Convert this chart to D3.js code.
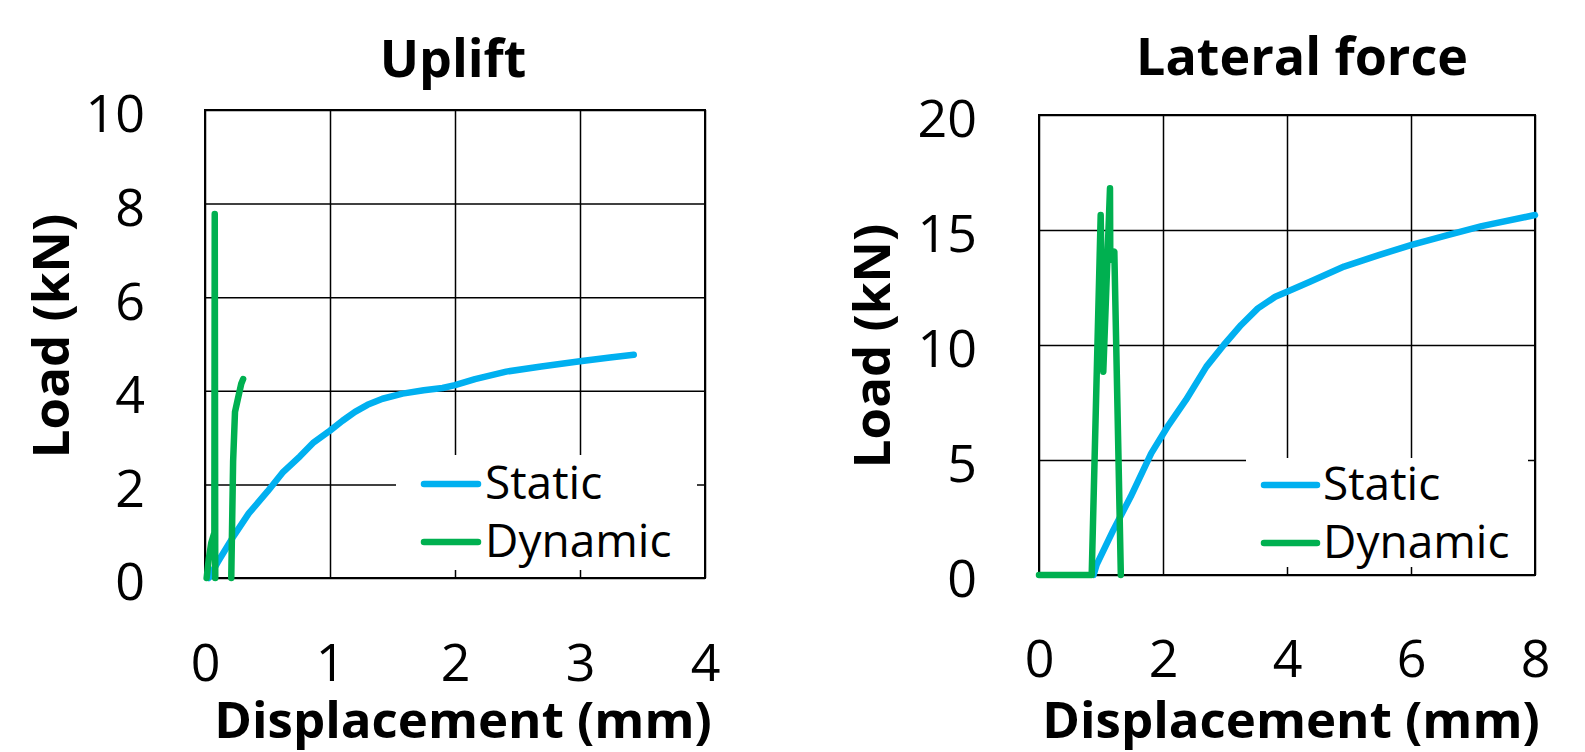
<!DOCTYPE html>
<html>
<head>
<meta charset="utf-8">
<script src="https://cdn.jsdelivr.net/npm/d3@7"></script>
<style>
  body { margin: 0; background: #fff; }
  text { font-family: "Open Sans", sans-serif; fill: #000; }
</style>
</head>
<body>
<svg id="chart" width="1585" height="752"></svg>
<script>
// Uplift panel
var upStaticX = [0.03, 0.1, 0.23, 0.35, 0.5, 0.62, 0.76, 0.87, 1.0, 1.1, 1.2, 1.3, 1.42, 1.58, 1.75, 1.9, 2.0, 2.16, 2.41, 2.69, 3.0, 3.24, 3.43];
var upStaticY = [0.0, 0.33, 0.9, 1.38, 1.85, 2.25, 2.6, 2.9, 3.15, 3.36, 3.55, 3.7, 3.83, 3.94, 4.01, 4.06, 4.12, 4.25, 4.41, 4.52, 4.63, 4.71, 4.77];
// null = gap between the two loadings
var upDynX = [0.013, 0.03, 0.05, 0.075, 0.078, 0.082, 0.15, 0.21, 0.225, 0.24, 0.265, 0.29, 0.305];
var upDynY = [0.0, 0.4, 0.75, 0.97, 7.78, 0.0, null, 0.0, 2.5, 3.55, 3.85, 4.15, 4.25];
var upXTicks = [0, 1, 2, 3, 4];
var upYTicks = [0, 2, 4, 6, 8, 10];

// Lateral force panel
var latStaticX = [0.88, 0.93, 1.2, 1.48, 1.81, 2.09, 2.37, 2.7, 2.98, 3.26, 3.53, 3.81, 4.0, 4.37, 4.92, 5.48, 6.01, 6.59, 7.14, 8.0];
var latStaticY = [0.0, 0.45, 1.96, 3.41, 5.29, 6.52, 7.61, 9.06, 10.0, 10.87, 11.59, 12.1, 12.32, 12.75, 13.41, 13.91, 14.35, 14.78, 15.17, 15.65];
var latDynX = [0.0, 0.85, 0.995, 1.037, 1.145, 1.15, 1.215, 1.32];
var latDynY = [0.0, 0.0, 15.65, 8.84, 16.81, 13.7, 14.06, 0.0];
var latXTicks = [0, 2, 4, 6, 8];
var latYTicks = [0, 5, 10, 15, 20];

var seriesNames = ["Static", "Dynamic"];
var seriesColors = ["#00B0F0", "#00B050"];

var svg = d3.select("#chart");

function zip(xs, ys) {
  return xs.map(function (x, i) { return {x: x, y: ys[i]} })
}

function drawPanel(p) {
  var x = d3.scaleLinear()
    .domain([p.xTicks[0], p.xTicks[p.xTicks.length - 1]])
    .range([p.left, p.right]);
  var y = d3.scaleLinear()
    .domain([p.yTicks[0], p.yTicks[p.yTicks.length - 1]])
    .range([p.bottom, p.top]);

  var g = svg.append("g");

  var yAxis = g.append("g")
    .attr("transform", "translate(" + p.left + ",0)")
    .call(d3.axisLeft(y).tickValues(p.yTicks).tickFormat(d3.format("d"))
      .tickSizeInner(-(p.right - p.left)).tickSizeOuter(0).tickPadding(p.left - p.yLabelX))
    .attr("font-size", null).attr("font-family", null);
  yAxis.select(".domain").remove();
  yAxis.selectAll("line").attr("stroke", "#000").attr("stroke-width", 1.5);
  yAxis.selectAll("text").attr("font-size", 52).attr("dy", "0.42em");

  var xAxis = g.append("g")
    .attr("transform", "translate(0," + p.bottom + ")")
    .call(d3.axisBottom(x).tickValues(p.xTicks).tickFormat(d3.format("d"))
      .tickSizeInner(-(p.bottom - p.top)).tickSizeOuter(0))
    .attr("font-size", null).attr("font-family", null);
  xAxis.select(".domain").remove();
  xAxis.selectAll("line").attr("stroke", "#000").attr("stroke-width", 1.5);
  xAxis.selectAll("text").attr("font-size", 52).attr("y", p.xLabelY - p.bottom).attr("dy", 0);

  // plot border
  g.append("rect")
    .attr("x", p.left).attr("y", p.top)
    .attr("width", p.right - p.left).attr("height", p.bottom - p.top)
    .attr("fill", "none").attr("stroke", "#000").attr("stroke-width", 2);

  // legend background hides the gridlines
  g.append("rect")
    .attr("x", p.legBox[0]).attr("y", p.legBox[1])
    .attr("width", p.legBox[2] - p.legBox[0]).attr("height", p.legBox[3] - p.legBox[1])
    .attr("fill", "#fff");

  var line = d3.line()
    .defined(function (d) { return d.y != null })
    .x(function (d) { return x(d.x) })
    .y(function (d) { return y(d.y) });

  p.series.forEach(function (s, i) {
    g.append("path")
      .datum(s)
      .attr("d", line)
      .attr("fill", "none")
      .attr("stroke", seriesColors[i])
      .attr("stroke-width", 6.5)
      .attr("stroke-linecap", "round")
      .attr("stroke-linejoin", "round");
  });

  seriesNames.forEach(function (name, i) {
    var ly = p.legY[i];
    g.append("line")
      .attr("x1", p.legX[0]).attr("x2", p.legX[1])
      .attr("y1", ly).attr("y2", ly)
      .attr("stroke", seriesColors[i]).attr("stroke-width", 6.5).attr("stroke-linecap", "round");
    g.append("text")
      .attr("x", p.legX[2]).attr("y", ly + 15)
      .attr("font-size", 46)
      .text(name);
  });

  g.append("text")
    .attr("x", p.titlePos[0]).attr("y", p.titlePos[1])
    .attr("text-anchor", "middle").attr("font-size", 52).attr("font-weight", "bold")
    .text(p.title);

  g.append("text")
    .attr("x", p.xTitlePos[0]).attr("y", p.xTitlePos[1])
    .attr("text-anchor", "middle").attr("font-size", 51).attr("font-weight", "bold")
    .text("Displacement (mm)");

  g.append("text")
    .attr("transform", "translate(" + p.yTitlePos[0] + "," + p.yTitlePos[1] + ") rotate(-90)")
    .attr("text-anchor", "middle").attr("font-size", 51).attr("font-weight", "bold")
    .text("Load (kN)");
}

drawPanel({
  title: "Uplift",
  left: 205, right: 705, top: 110, bottom: 578,
  xTicks: upXTicks, yTicks: upYTicks,
  yLabelX: 145, xLabelY: 681,
  series: [zip(upStaticX, upStaticY), zip(upDynX, upDynY)],
  legBox: [396, 455, 697, 570],
  legX: [424, 478, 485], legY: [484, 542],
  titlePos: [453, 77], xTitlePos: [463, 738], yTitlePos: [69, 336]
});

drawPanel({
  title: "Lateral force",
  left: 1039, right: 1535, top: 115, bottom: 575,
  xTicks: latXTicks, yTicks: latYTicks,
  yLabelX: 977, xLabelY: 677,
  series: [zip(latStaticX, latStaticY), zip(latDynX, latDynY)],
  legBox: [1246, 458, 1528, 567],
  legX: [1264, 1317, 1323], legY: [485, 543],
  titlePos: [1302, 75], xTitlePos: [1291, 738], yTitlePos: [890, 346]
});
</script>
</body>
</html>
